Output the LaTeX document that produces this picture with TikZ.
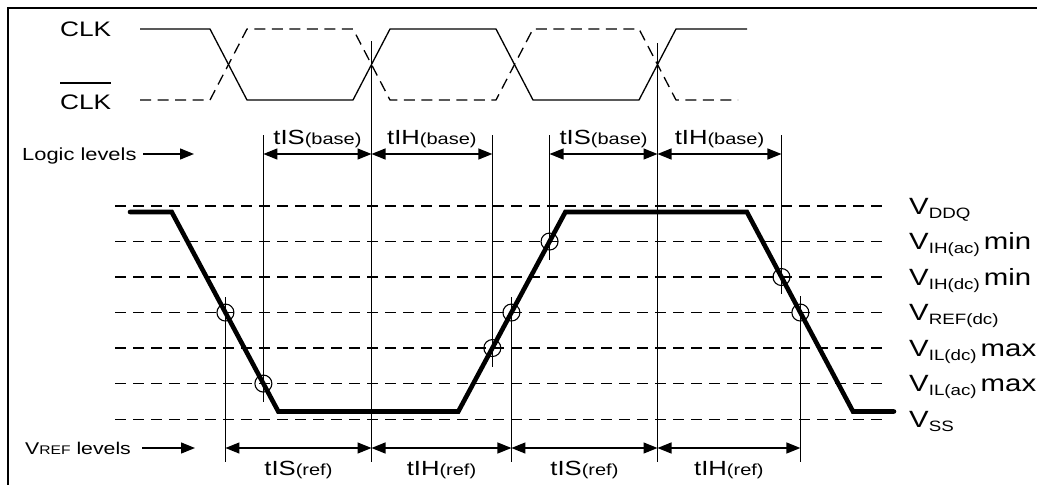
\documentclass[tikz,border=0pt]{standalone}
\usepackage{fontspec}
\setmainfont{Liberation Sans}[FakeStretch=1.25]
\usetikzlibrary{arrows.meta,calc}
\newcommand\fsz[1]{\fontsize{#1}{#1}\selectfont}
\newcommand\sigsub[1]{\raisebox{-4pt}{\fsz{15}#1}}
\begin{document}
\begin{tikzpicture}[x=1pt,y=-1pt,
  lab/.style={inner sep=0pt, anchor=base west},
  mid/.style={inner sep=0pt, anchor=base},
  vline/.style={line width=1.1pt},
  lvl/.style={line width=1.5pt, dash pattern=on 11pt off 7pt},
  clks/.style={line width=1.3pt},
  clkd/.style={line width=1.3pt, dash pattern=on 11pt off 6.5pt},
  sig/.style={line width=4.6pt, line cap=round},
  dimarrow/.style={line width=1.3pt, {Triangle[length=14pt,width=11pt]}-{Triangle[length=14pt,width=11pt]}},
  onearrow/.style={line width=1.3pt, -{Triangle[length=14pt,width=11pt]}},
  ring/.style={circle, draw, line width=1.1pt, minimum size=17pt, inner sep=0pt}]
\useasboundingbox (0,0) rectangle (1037,485);
% frame (cropped)
\draw[line width=2.7pt] (1045,8) -- (8,8) -- (8,495);

% clock
\draw[clks] (140,29) -- (210,29) -- (247,100) -- (353,100) -- (390,29) -- (496,29) -- (533,100) -- (639,100) -- (676,29) -- (747,29);
\draw[clkd] (140,100) -- (210,100) -- (247,29) -- (353,29) -- (390,100) -- (496,100) -- (533,29) -- (639,29) -- (676,100) -- (738,100);
\node[lab] (clk) at (60,36.5) {\fsz{21}CLK};
\node[lab] (clkb) at (60,109) {\fsz{21}CLK};
\draw[line width=1.3pt] ([yshift=11pt]clkb.north west) -- ([yshift=11pt]clkb.north east);

% levels
\foreach \n/\y in {0/206,1/241.5,2/277,3/312.5,4/348,5/383.5,6/419.5}{
  \coordinate (L\n w) at (115,\y);
  \coordinate (L\n e) at (889,\y);
  \draw[lvl] (L\n w) -- (L\n e);
}

% signal
\coordinate (A) at (130,212);
\coordinate (B) at (171.7,212);
\coordinate (C) at (278.3,411.5);
\coordinate (D) at (458.3,411.5);
\coordinate (E) at (565.4,212);
\coordinate (F) at (746.9,212);
\coordinate (G) at (853,411.5);
\coordinate (H) at (894,411.5);
\draw[sig] (A) -- (B) -- (C) -- (D) -- (E) -- (F) -- (G) -- (H);

\coordinate (p1) at ($(B)!0.504!(C)$);
\coordinate (p2) at ($(B)!0.860!(C)$);
\coordinate (p3) at ($(D)!0.318!(E)$);
\coordinate (p4) at ($(D)!0.496!(E)$);
\coordinate (p5) at ($(D)!0.852!(E)$);
\coordinate (p6) at ($(F)!0.326!(G)$);
\coordinate (p7) at ($(F)!0.504!(G)$);
\foreach \i in {1,...,7}{ \node[ring] (r\i) at (p\i) {}; }

% clock crossing references
\coordinate (c1) at (371.5,64);
\coordinate (c2) at (657.5,64);

% vertical lines
\draw[vline] (p1 |- 0,297) -- (p1 |- 0,462);
\draw[vline] (p2 |- 0,135) -- (p2 |- 0,402);
\draw[vline] (p3 |- 0,135) -- (p3 |- 0,367);
\draw[vline] (p4 |- 0,297) -- (p4 |- 0,462);
\draw[vline] (p5 |- 0,135) -- (p5 |- 0,260);
\draw[vline] (p6 |- 0,135) -- (p6 |- 0,294);
\draw[vline] (p7 |- 0,296) -- (p7 |- 0,462);
\draw[vline] (c1 |- 0,41) -- (c1 |- 0,462);
\draw[vline] (c2 |- 0,43) -- (c2 |- 0,462);

% base arrows
\coordinate (b1) at (p2 |- 0,154);
\coordinate (b2) at (c1 |- 0,154);
\coordinate (b3) at (p3 |- 0,154);
\coordinate (b4) at (p5 |- 0,154);
\coordinate (b5) at (c2 |- 0,154);
\coordinate (b6) at (p6 |- 0,154);
\draw[dimarrow] (b1) -- (b2);
\draw[dimarrow] (b2) -- (b3);
\draw[dimarrow] (b4) -- (b5);
\draw[dimarrow] (b5) -- (b6);
\node[mid] (tisb1) at ($(b1)!0.5!(b2)+(0,-10)$) {\fsz{20.5}tIS{\fsz{16}(base)}};
\node[mid] (tihb1) at ($(b2)!0.5!(b3)+(0,-10)$) {\fsz{20.5}tIH{\fsz{16}(base)}};
\node[mid] (tisb2) at ($(b4)!0.5!(b5)+(0,-10)$) {\fsz{20.5}tIS{\fsz{16}(base)}};
\node[mid] (tihb2) at ($(b5)!0.5!(b6)+(0,-10)$) {\fsz{20.5}tIH{\fsz{16}(base)}};

% ref arrows
\coordinate (f1) at (p1 |- 0,448);
\coordinate (f2) at (c1 |- 0,448);
\coordinate (f3) at (p4 |- 0,448);
\coordinate (f4) at (c2 |- 0,448);
\coordinate (f5) at (p7 |- 0,448);
\draw[dimarrow] (f1) -- (f2);
\draw[dimarrow] (f2) -- (f3);
\draw[dimarrow] (f3) -- (f4);
\draw[dimarrow] (f4) -- (f5);
\node[mid] (tisr1) at ($(f1)!0.5!(f2)+(0,27)$) {\fsz{20.5}tIS{\fsz{16}(ref)}};
\node[mid] (tihr1) at ($(f2)!0.5!(f3)+(0,27)$) {\fsz{20.5}tIH{\fsz{16}(ref)}};
\node[mid] (tisr2) at ($(f3)!0.5!(f4)+(0,27)$) {\fsz{20.5}tIS{\fsz{16}(ref)}};
\node[mid] (tihr2) at ($(f4)!0.5!(f5)+(0,27)$) {\fsz{20.5}tIH{\fsz{16}(ref)}};

% side labels with arrows
\node[lab] (logic) at (22,160.5) {\fsz{17.5}Logic levels};
\coordinate (la1) at (143,154);
\coordinate (la2) at (194,154);
\draw[onearrow] (la1) -- (la2);
\node[lab] (vref) at (25,454.5) {\fsz{17}V{\fsz{12.5}REF} levels};
\coordinate (va1) at (142,448);
\coordinate (va2) at (195,448);
\draw[onearrow] (va1) -- (va2);

% right level labels
\node[lab] (vddq) at ($(L0e)+(20,8)$) {\fsz{23.5}V\sigsub{DDQ}};
\node[lab] (vihac) at ($(L1e)+(20,8)$) {\fsz{23.5}V\sigsub{IH(ac)}\kern4pt min};
\node[lab] (vihdc) at ($(L2e)+(20,8)$) {\fsz{23.5}V\sigsub{IH(dc)}\kern4pt min};
\node[lab] (vrefdc) at ($(L3e)+(20,8)$) {\fsz{23.5}V\sigsub{REF(dc)}};
\node[lab] (vildc) at ($(L4e)+(20,8)$) {\fsz{23.5}V\sigsub{IL(dc)}\kern4pt max};
\node[lab] (vilac) at ($(L5e)+(20,8)$) {\fsz{23.5}V\sigsub{IL(ac)}\kern4pt max};
\node[lab] (vss) at ($(L6e)+(20,8)$) {\fsz{23.5}V\sigsub{SS}};
\end{tikzpicture}
\end{document}
